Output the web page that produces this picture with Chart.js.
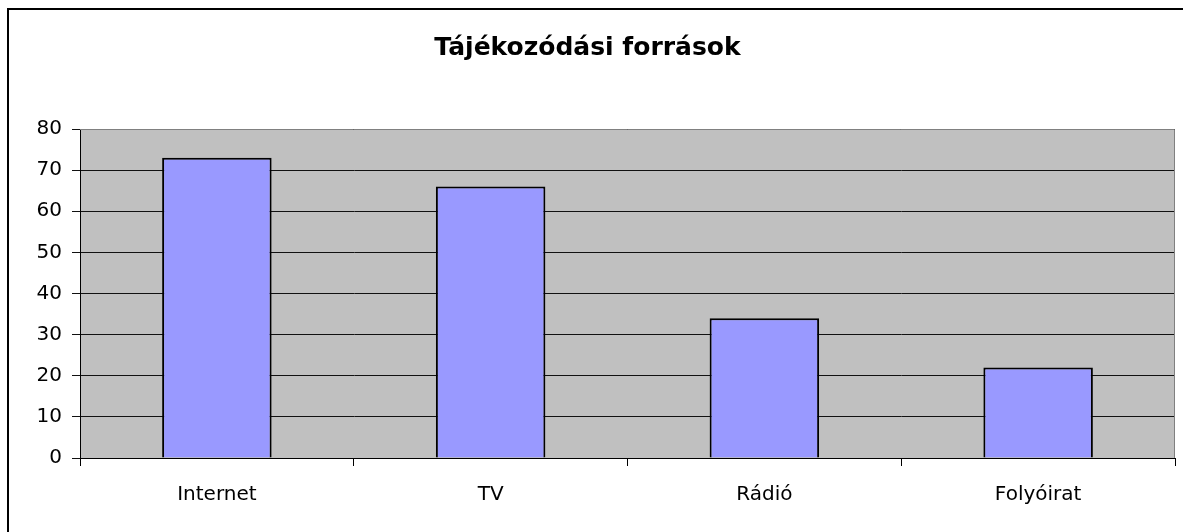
<!DOCTYPE html>
<html>
<head>
<meta charset="utf-8">
<script src="https://cdn.jsdelivr.net/npm/chart.js@4"></script>
<style>
html,body{margin:0;padding:0;background:#fff;}
#wrap{width:1183px;height:532px;position:relative;}
</style>
</head>
<body>
<div id="wrap"><canvas id="c" width="1183" height="532"></canvas></div>
<script>
const titleText = 'Tájékozódási források';
const categories = ['Internet', 'TV', 'Rádió', 'Folyóirat'];
const values = [73, 66, 34, 22];
const yTicks = [0, 10, 20, 30, 40, 50, 60, 70, 80];

const FONT = 'DejaVu Sans, Liberation Sans, Arial, sans-serif';

const frame = {
  id: 'frame',
  beforeDraw(chart) {
    const ctx = chart.ctx, a = chart.chartArea;
    ctx.save();
    ctx.fillStyle = '#fff';
    ctx.fillRect(0, 0, chart.width, chart.height);
    ctx.strokeStyle = '#000';
    ctx.lineWidth = 2;
    ctx.strokeRect(8, 9, chart.width + 20, chart.height + 20);
    ctx.fillStyle = '#C0C0C0';
    ctx.fillRect(a.left, a.top, a.right - a.left, a.bottom - a.top);
    ctx.restore();
  },
  afterDatasetsDraw(chart) {
    const ctx = chart.ctx, a = chart.chartArea;
    ctx.save();
    ctx.strokeStyle = '#808080';
    ctx.lineWidth = 1;
    ctx.beginPath();
    ctx.moveTo(a.left, a.top + 0.5);
    ctx.lineTo(a.right - 0.5, a.top + 0.5);
    ctx.lineTo(a.right - 0.5, a.bottom);
    ctx.stroke();
    ctx.restore();
  }
};

new Chart(document.getElementById('c'), {
  type: 'bar',
  data: {
    labels: categories,
    datasets: [{
      data: values,
      backgroundColor: '#9999FF',
      borderColor: '#000',
      borderWidth: 2,
      barPercentage: 0.4,
      categoryPercentage: 1.0
    }]
  },
  plugins: [frame],
  options: {
    responsive: false,
    animation: false,
    devicePixelRatio: 1,
    layout: { padding: { left: 0, right: 8, top: 0, bottom: 0 } },
    plugins: {
      legend: { display: false },
      tooltip: { enabled: false },
      title: {
        display: true,
        text: titleText,
        color: '#000',
        font: { family: FONT, size: 25, weight: 'bold' },
        padding: { top: 33, bottom: 66 }
      }
    },
    scales: {
      x: {
        offset: true,
        grid: { display: true, drawOnChartArea: false, drawTicks: true, tickLength: 8, color: '#000', offset: true },
        border: { display: true, color: '#000', width: 1 },
        ticks: { color: '#000', font: { family: FONT, size: 20 }, padding: 17, maxRotation: 0 },
        afterFit(s) { s.height = 74; }
      },
      y: {
        min: 0, max: 80,
        afterBuildTicks(s) { s.ticks = yTicks.map(v => ({ value: v })); },
        grid: { color: '#111', lineWidth: 1, tickLength: 8, drawTicks: true },
        border: { display: true, color: '#000', width: 1 },
        ticks: { color: '#000', font: { family: FONT, size: 20 }, padding: 10 },
        afterFit(s) { s.width = 80; }
      }
    }
  }
});
</script>
</body>
</html>
